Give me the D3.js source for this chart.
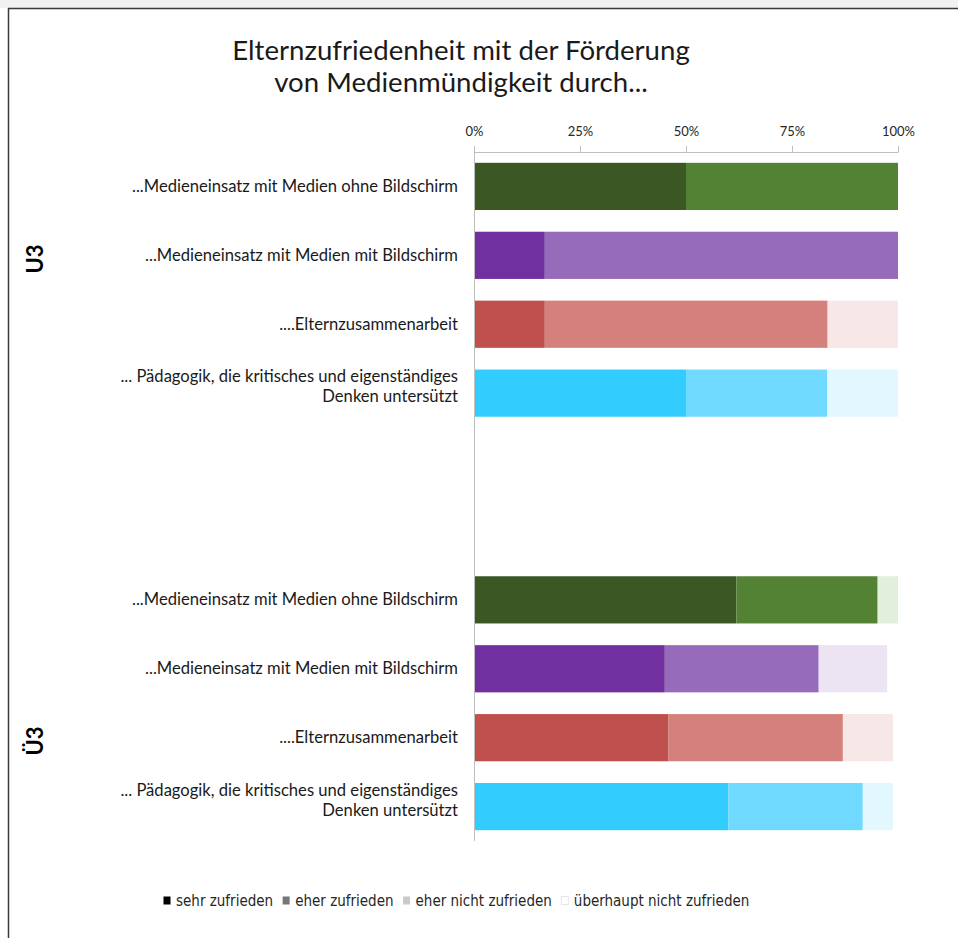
<!DOCTYPE html>
<html>
<head>
<meta charset="utf-8">
<script src="https://cdn.jsdelivr.net/npm/d3@7"></script>
<style>
  html, body { margin: 0; padding: 0; background: #ffffff; }
  svg { display: block; }
</style>
</head>
<body>
<svg id="chart" width="958" height="938"></svg>
<script>
// Survey answers: share of parents (in %) per rating, per item and age group
const groups = ["U3", "Ü3"];
const categories = [
  "...Medieneinsatz mit Medien ohne Bildschirm",
  "...Medieneinsatz mit Medien mit Bildschirm",
  "....Elternzusammenarbeit",
  "... Pädagogik, die kritisches und eigenständiges\nDenken untersützt"
];
const seriesNames = ["sehr zufrieden", "eher zufrieden", "eher nicht zufrieden", "überhaupt nicht zufrieden"];

const sehrU3       = [50.0, 16.7, 16.7, 50.0];
const eherU3       = [50.0, 83.3, 66.7, 33.3];
const eherNichtU3  = [0.0, 0.0, 16.6, 16.7];
const ueberhauptU3 = [0.0, 0.0, 0.0, 0.0];

const sehrUe3       = [61.9, 45.0, 45.8, 60.0];
const eherUe3       = [33.3, 36.3, 41.2, 31.7];
const eherNichtUe3  = [4.8, 16.2, 11.8, 7.1];
const ueberhauptUe3 = [0.0, 2.5, 1.2, 1.2];

const tickValues = [0, 25, 50, 75, 100];
const tickLabels = ["0%", "25%", "50%", "75%", "100%"];

// colour ramps per item: strong, medium, pale, white
const itemColors = [
  ["#3a5724", "#548235", "#e2efda", "#ffffff"],
  ["#7030a0", "#966bb9", "#ede4f3", "#ffffff"],
  ["#c0504d", "#d4807d", "#f7e7e7", "#ffffff"],
  ["#33ccff", "#6fd9ff", "#e3f7ff", "#ffffff"]
];
const legendColors = ["#000000", "#777777", "#c9c9c9", "#ffffff"];

const titleLines = ["Elternzufriedenheit mit der Förderung", "von Medienmündigkeit durch..."];

const groupSeries = [
  [sehrU3, eherU3, eherNichtU3, ueberhauptU3],
  [sehrUe3, eherUe3, eherNichtUe3, ueberhauptUe3]
];

// rows: four items per group, with two blank rows separating the groups
const rows = [];
groups.forEach((g, gi) => {
  categories.forEach((c, ci) => {
    const rec = { key: g + "|" + ci, group: g, item: ci, label: c };
    seriesNames.forEach((s, si) => { rec[s] = groupSeries[gi][si][ci]; });
    rows.push(rec);
  });
  if (gi < groups.length - 1) {
    rows.push({ key: "gap1", blank: true });
    rows.push({ key: "gap2", blank: true });
  }
});

const svg = d3.select("#chart");
const W = 958, H = 938;
const font = "Lato, 'Open Sans', sans-serif";

// outer frame
svg.append("rect").attr("x", 0).attr("y", 0).attr("width", W).attr("height", 8).attr("fill", "#f1f1f1");
svg.append("line").attr("x1", 8).attr("x2", W).attr("y1", 8.5).attr("y2", 8.5)
  .attr("stroke", "#3a3a3a").attr("stroke-width", 1.5);
svg.append("line").attr("x1", 8.5).attr("x2", 8.5).attr("y1", 8).attr("y2", H)
  .attr("stroke", "#3a3a3a").attr("stroke-width", 1.5);

const x = d3.scaleLinear().domain([0, 100]).range([474, 898]);
const y = d3.scaleBand().domain(rows.map(r => r.key)).range([152, 841]).paddingInner(0.315).paddingOuter(0.157);

// title
svg.append("g").selectAll("text").data(titleLines).join("text")
  .attr("x", 461).attr("y", (d, i) => 60 + i * 32)
  .attr("text-anchor", "middle")
  .attr("font-family", font).attr("font-size", 27.6).attr("fill", "#1a1a1a")
  .text(d => d);

// stacked bars
const stack = d3.stack().keys(seriesNames);
const stacked = stack(rows.filter(r => !r.blank));
const barG = svg.append("g");
stacked.forEach((layer, si) => {
  barG.append("g").selectAll("rect").data(layer).join("rect")
    .attr("x", d => x(d[0]))
    .attr("width", d => Math.max(0, x(d[1]) - x(d[0])))
    .attr("y", d => y(d.data.key))
    .attr("height", y.bandwidth())
    .attr("fill", d => itemColors[d.data.item][si]);
});

// value axis on top
const xAxis = d3.axisTop(x).tickValues(tickValues)
  .tickFormat((d, i) => tickLabels[i]).tickSize(6).tickPadding(10);
const axG = svg.append("g").attr("transform", "translate(0,152)").call(xAxis);
axG.select(".domain").attr("stroke", "#bfbfbf").attr("d", "M474.5,0.5H898.5");
axG.selectAll(".tick line").attr("stroke", "#bfbfbf");
axG.selectAll(".tick text").attr("font-family", font).attr("font-size", 13).attr("fill", "#262626");

// category axis line
svg.append("line").attr("x1", 474.5).attr("x2", 474.5).attr("y1", 152).attr("y2", 841)
  .attr("stroke", "#bfbfbf").attr("stroke-width", 1);

// item labels (multi-line labels split on "\n")
const labG = svg.append("g");
rows.filter(r => !r.blank).forEach(r => {
  const lines = r.label.split("\n");
  const cy = y(r.key) + y.bandwidth() / 2;
  const t = labG.append("text")
    .attr("text-anchor", "end")
    .attr("font-family", font).attr("font-size", 16.6).attr("fill", "#1a1a1a");
  lines.forEach((ln, i) => {
    t.append("tspan").attr("x", 458)
      .attr("y", cy + 5.5 + (i - (lines.length - 1) / 2) * 20 - (lines.length > 1 ? 6.5 : 0))
      .text(ln);
  });
});

// group labels
const groupPos = [259, 741];
svg.append("g").selectAll("text").data(groups).join("text")
  .attr("transform", (d, i) => `translate(43,${groupPos[i]}) rotate(-90)`)
  .attr("text-anchor", "middle")
  .attr("font-family", font).attr("font-size", 22).attr("font-weight", "bold").attr("fill", "#000")
  .text(d => d);

// legend
const legFont = "'Liberation Sans Narrow', 'DejaVu Sans Condensed', sans-serif";
const leg = svg.append("g").attr("transform", "translate(163,901)");
let lx = 0;
seriesNames.forEach((s, i) => {
  const g = leg.append("g").attr("transform", `translate(${lx},0)`);
  g.append("rect").attr("x", 0.5).attr("y", -4.5).attr("width", 7).attr("height", 8)
    .attr("fill", legendColors[i])
    .attr("stroke", i === 3 ? "#e6e6e6" : "none");
  const t = g.append("text").attr("x", 13).attr("y", 5)
    .attr("font-family", legFont).attr("font-size", 15).attr("fill", "#262626").text(s);
  lx += 13 + t.node().getComputedTextLength() + 9;
});
</script>
</body>
</html>
